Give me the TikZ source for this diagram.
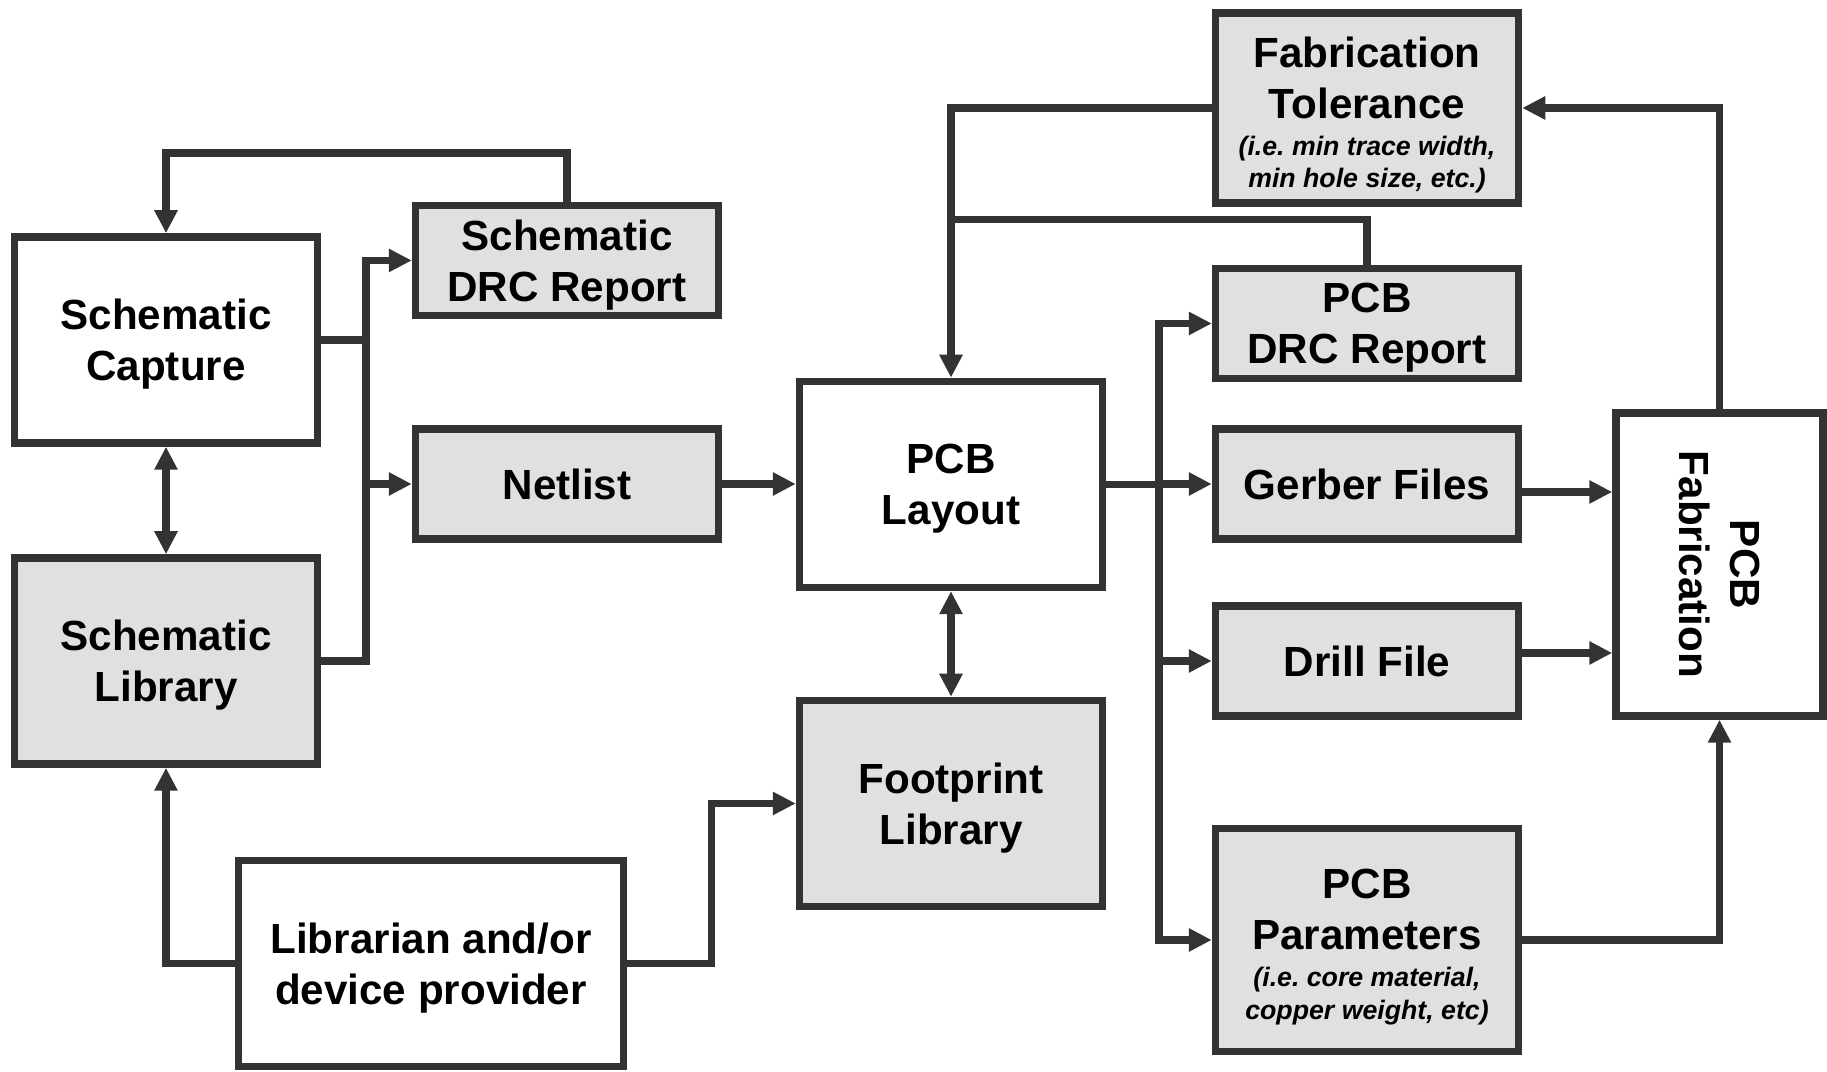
\documentclass[tikz,border=0pt]{standalone}
\usepackage{fontspec}
\setmainfont{Liberation Sans}
\usepackage{graphicx}
\usepackage{tikz}
\usetikzlibrary{arrows.meta}

\definecolor{linegray}{HTML}{333333}
\definecolor{boxgray}{HTML}{E0E0E0}

% small italic notes under a box title
\newcommand{\notes}[1]{{\itshape\frenchspacing\fontsize{7.6}{9.3}\selectfont\begin{tabular}[t]{@{}c@{}}#1\end{tabular}}}

\tikzset{
  block/.style={draw=linegray, line width=0.075cm, fill=white, minimum width=3.03cm,
    minimum height=2.06cm, inner sep=0pt, align=center,
    font=\bfseries\fontsize{12}{14.5}\selectfont},
  greybox/.style={block, fill=boxgray},
  flat/.style={text depth=0pt},
  link/.style={draw=linegray, line width=0.075cm},
  arrow/.style={link, -{Triangle[length=0.23cm,width=0.22cm]}},
  twoway/.style={link, {Triangle[length=0.23cm,width=0.22cm]}-{Triangle[length=0.23cm,width=0.22cm]}},
}

\begin{document}
\begin{tikzpicture}
\useasboundingbox (0,0) rectangle (18.27,10.72);
% Schematic side
\node[block, flat] (cap) at (1.66,7.32) {Schematic\\Capture};
\node[greybox, flat] (slib) at (1.66,4.11) {Schematic\\Library};
\node[greybox, flat, minimum height=1.10cm] (sdrc) at (5.67,8.115) {Schematic\\DRC Report};
\node[greybox, minimum height=1.10cm] (netlist) at (5.67,5.88) {Netlist};
\node[block, flat, minimum width=3.85cm] (libr) at (4.31,1.085) {Librarian and/or\\device provider};
% Layout and footprints
\node[block, flat] (layout) at (9.51,5.875) {PCB\\Layout};
\node[greybox, flat] (fplib) at (9.51,2.685) {Footprint\\Library};
% Outputs of the layout
\node[greybox, minimum height=1.90cm, text depth=6.8pt] (fabtol) at (13.67,9.64)
  {Fabrication\\Tolerance\\[-4pt]\notes{(i.e. min trace width,\\min hole size, etc.)}};
\node[greybox, flat, minimum height=1.10cm] (pcbdrc) at (13.67,7.485) {PCB\\DRC Report};
\node[greybox, minimum height=1.10cm] (gerber) at (13.67,5.88) {Gerber Files};
\node[greybox, minimum height=1.10cm] (drill) at (13.67,4.11) {Drill File};
\node[greybox, minimum height=2.23cm, text depth=6.8pt] (params) at (13.67,1.32)
  {PCB\\Parameters\\[-4pt]\notes{(i.e. core material,\\copper weight, etc)}};
\node[block, minimum width=2.07cm, minimum height=3.03cm] (fab) at (17.195,5.075)
  {\kern-2.6pt\rotatebox{-90}{\begin{tabular}{@{}c@{}}PCB\\Fabrication\end{tabular}}};

% Schematic connections
\coordinate (sbus) at (3.66,0);
\draw[arrow] (sdrc.north) -- ++(0,0.485) -| (cap.north);
\draw[twoway] (cap.south) -- (slib.north);
\draw[link] (cap.east) -- (cap.east -| sbus);
\draw[arrow] (slib.east) -| (sbus |- sdrc.west) -- (sdrc.west);
\draw[arrow] (sbus |- netlist.west) -- (netlist.west);
\draw[arrow] (netlist.east) -- (netlist.east -| layout.west);
% Librarian feeds both libraries
\draw[arrow] (libr.west) -| (slib.south);
\draw[arrow] (libr.east) -- ++(0.84,0) |- (fplib.west);
\draw[twoway] (layout.south) -- (fplib.north);
% Checks back into the layout
\draw[arrow] (fabtol.west) -| (layout.north);
\draw[link] (pcbdrc.north) -- ++(0,0.45) coordinate (drcup) -- (drcup -| layout.north);
% Layout outputs
\coordinate (pbus) at (11.59,0);
\draw[link] (layout.east) -- (layout.east -| pbus);
\draw[twoway] (pcbdrc.west) -| (pbus |- params.west) -- (params.west);
\draw[arrow] (pbus |- gerber.west) -- (gerber.west);
\draw[arrow] (pbus |- drill.west) -- (drill.west);
% Into fabrication
\draw[arrow] ([yshift=-0.08cm]gerber.east) -- ([yshift=-0.08cm]gerber.east -| fab.west);
\draw[arrow] ([yshift=0.08cm]drill.east) -- ([yshift=0.08cm]drill.east -| fab.west);
\draw[arrow] (params.east) -| (fab.south);
\draw[arrow] (fab.north) |- (fabtol.east);
\end{tikzpicture}
\end{document}
